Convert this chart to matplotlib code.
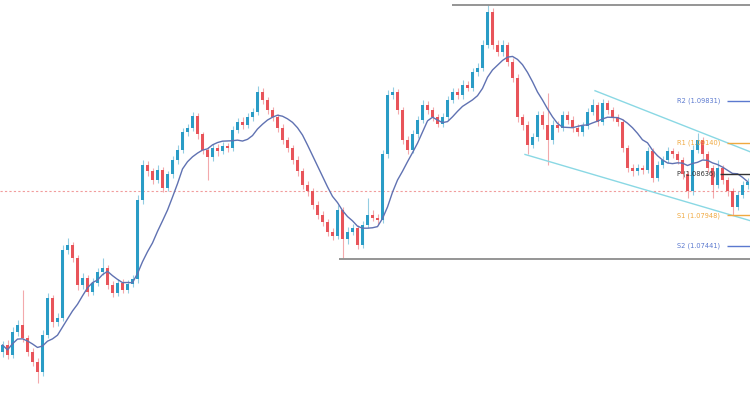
import matplotlib
matplotlib.use("Agg")
import matplotlib.pyplot as plt
import pandas as pd

# Valores (preço de fechamento, máximas e mínimas)
first_open = 1.0570
closes = [
    1.0581, 1.0565, 1.0603, 1.0614, 1.0593, 1.0570, 1.0553, 1.0537, 1.0598, 1.0659,
    1.0619, 1.0626, 1.0738, 1.0746, 1.0725, 1.0680, 1.0692, 1.0669, 1.0684, 1.0702,
    1.0708, 1.0680, 1.0667, 1.0684, 1.0672, 1.0682, 1.0689, 1.0820, 1.0878, 1.0867,
    1.0853, 1.0870, 1.0840, 1.0862, 1.0886, 1.0903, 1.0932, 1.0939, 1.0959, 1.0928,
    1.0903, 1.0890, 1.0906, 1.0900, 1.0909, 1.0906, 1.0936, 1.0949, 1.0944, 1.0956,
    1.0965, 1.0998, 1.0985, 1.0969, 1.0956, 1.0939, 1.0919, 1.0906, 1.0886, 1.0867,
    1.0845, 1.0834, 1.0812, 1.0796, 1.0784, 1.0768, 1.0761, 1.0804, 1.0755, 1.0768,
    1.0774, 1.0746, 1.0779, 1.0796, 1.0791, 1.0787, 1.0895, 1.0993, 1.0998, 1.0969,
    1.0919, 1.0903, 1.0928, 1.0952, 1.0977, 1.0969, 1.0956, 1.0946, 1.0956, 1.0985,
    1.0998, 1.0993, 1.1010, 1.1005, 1.1031, 1.1038, 1.1076, 1.1130, 1.1076, 1.1064,
    1.1076, 1.1048, 1.1021, 1.0956, 1.0944, 1.0911, 1.0923, 1.0960, 1.0944, 1.0919,
    1.0944, 1.0939, 1.0960, 1.0952, 1.0939, 1.0932, 1.0942, 1.0965, 1.0977, 1.0949,
    1.0979, 1.0969, 1.0956, 1.0949, 1.0906, 1.0873, 1.0867, 1.0873, 1.0870, 1.0900,
    1.0857, 1.0878, 1.0886, 1.0900, 1.0895, 1.0886, 1.0862, 1.0834, 1.0903, 1.0919,
    1.0895, 1.0873, 1.0844, 1.0873, 1.0853, 1.0834, 1.0809, 1.0829, 1.0844, 1.0850,
]
highs = [
    1.0588, 1.0590, 1.0610, 1.0622, 1.0672, 1.0598, 1.0576, 1.0560, 1.0605, 1.0667,
    1.0664, 1.0634, 1.0745, 1.0758, 1.0751, 1.0729, 1.0699, 1.0697, 1.0691, 1.0708,
    1.0725, 1.0713, 1.0686, 1.0690, 1.0690, 1.0688, 1.0696, 1.0828, 1.0886, 1.0884,
    1.0872, 1.0877, 1.0875, 1.0868, 1.0893, 1.0910, 1.0938, 1.0946, 1.0965, 1.0963,
    1.0932, 1.0908, 1.0912, 1.0913, 1.0916, 1.0914, 1.0942, 1.0955, 1.0956, 1.0963,
    1.0972, 1.1008, 1.1004, 1.0990, 1.0974, 1.0961, 1.0945, 1.0924, 1.0911, 1.0892,
    1.0872, 1.0851, 1.0839, 1.0818, 1.0802, 1.0789, 1.0774, 1.0811, 1.0809, 1.0775,
    1.0781, 1.0779, 1.0786, 1.0824, 1.0803, 1.0797, 1.0902, 1.1001, 1.1006, 1.1003,
    1.0973, 1.0925, 1.0935, 1.0958, 1.0984, 1.0983, 1.0974, 1.0962, 1.0963, 1.0991,
    1.1005, 1.1004, 1.1017, 1.1016, 1.1038, 1.1046, 1.1084, 1.1142, 1.1136, 1.1083,
    1.1084, 1.1081, 1.1054, 1.1027, 1.0962, 1.0950, 1.0930, 1.0967, 1.0966, 1.0997,
    1.0951, 1.0950, 1.0967, 1.0966, 1.0958, 1.0945, 1.0948, 1.0972, 1.0986, 1.0982,
    1.0987, 1.0985, 1.0974, 1.0962, 1.0954, 1.0911, 1.0879, 1.0880, 1.0878, 1.0907,
    1.0905, 1.0884, 1.0893, 1.0907, 1.0906, 1.0901, 1.0891, 1.0867, 1.0910, 1.0931,
    1.0924, 1.0900, 1.0878, 1.0886, 1.0878, 1.0858, 1.0839, 1.0835, 1.0851, 1.0857,
]
lows = [
    1.0562, 1.0558, 1.0560, 1.0596, 1.0586, 1.0563, 1.0546, 1.0519, 1.0530, 1.0592,
    1.0611, 1.0612, 1.0620, 1.0731, 1.0718, 1.0672, 1.0673, 1.0662, 1.0664, 1.0678,
    1.0697, 1.0674, 1.0660, 1.0662, 1.0666, 1.0667, 1.0676, 1.0684, 1.0814, 1.0860,
    1.0846, 1.0848, 1.0833, 1.0835, 1.0857, 1.0880, 1.0897, 1.0926, 1.0934, 1.0921,
    1.0896, 1.0853, 1.0884, 1.0893, 1.0895, 1.0899, 1.0901, 1.0930, 1.0937, 1.0939,
    1.0950, 1.0960, 1.0978, 1.0962, 1.0950, 1.0932, 1.0912, 1.0899, 1.0879, 1.0860,
    1.0838, 1.0827, 1.0805, 1.0789, 1.0777, 1.0761, 1.0754, 1.0756, 1.0725, 1.0748,
    1.0762, 1.0740, 1.0741, 1.0773, 1.0785, 1.0781, 1.0782, 1.0889, 1.0986, 1.0962,
    1.0912, 1.0896, 1.0898, 1.0922, 1.0947, 1.0962, 1.0950, 1.0940, 1.0940, 1.0951,
    1.0979, 1.0987, 1.0987, 1.0999, 1.1000, 1.1025, 1.1032, 1.1070, 1.1069, 1.1057,
    1.1058, 1.1041, 1.1014, 1.0949, 1.0936, 1.0895, 1.0905, 1.0917, 1.0937, 1.0878,
    1.0913, 1.0932, 1.0934, 1.0945, 1.0932, 1.0925, 1.0926, 1.0937, 1.0960, 1.0942,
    1.0944, 1.0962, 1.0950, 1.0942, 1.0899, 1.0866, 1.0860, 1.0861, 1.0863, 1.0865,
    1.0850, 1.0852, 1.0872, 1.0881, 1.0889, 1.0880, 1.0855, 1.0824, 1.0829, 1.0897,
    1.0888, 1.0866, 1.0824, 1.0839, 1.0846, 1.0827, 1.0796, 1.0804, 1.0824, 1.0838,
]

# Pivôs
pivot_names = ["R2", "R1", "P", "S1", "S2"]
pivot_values = [1.09831, 1.09140, 1.08636, 1.07948, 1.07441]
pivot_colors = ["#5b79cf", "#f0a940", "#333333", "#f0a940", "#5b79cf"]

# Linhas desenhadas no gráfico
support_level = 1.0723
current_price = 1.0834
channel_upper = [(118.5, 1.1000), (149.5, 1.08995)]
channel_lower = [(104.5, 1.0895), (149.5, 1.0786)]

up_color = "#2a9cc6"
down_color = "#e8545a"

opens = [first_open] + closes[:-1]
n = len(closes)
idx = list(range(n))

fig = plt.figure(figsize=(7.5, 4), dpi=100)
ax = fig.add_axes([0, 0, 1, 1])
ax.set_xlim(-0.5, n - 0.5)
ax.set_ylim(1.04904, 1.11495)
ax.axis("off")

# Linha de preço atual (pontilhada)
ax.axhline(current_price, color="#f19c9c", lw=0.8, ls=(0, (2, 2)), zorder=1)

# Candles
for i in idx:
    o, c = opens[i], closes[i]
    col = up_color if c >= o else down_color
    ax.vlines(i, lows[i], highs[i], color=col, lw=0.8, alpha=0.5, zorder=2)
    ax.bar(i, abs(c - o), bottom=min(o, c), width=0.6, color=col, zorder=3)

# Média móvel
ma = pd.Series(closes).rolling(10, min_periods=1).mean()
ax.plot(idx, ma, color="#6072b2", lw=1.0, zorder=4)

# Resistência no topo e suporte embaixo
ax.hlines(max(highs), 89.9, n - 0.5, color="#8c8c8c", lw=1.3, zorder=4)
ax.hlines(support_level, 67.3, n - 0.5, color="#8c8c8c", lw=1.3, zorder=4)

# Canal de baixa
for line in (channel_upper, channel_lower):
    ax.plot([line[0][0], line[1][0]], [line[0][1], line[1][1]],
            color="#8ad8e4", lw=1.0, zorder=4)

# Pivôs com rótulos
for name, val, col in zip(pivot_names, pivot_values, pivot_colors):
    start = 143.5 if name == "P" else 144.9
    ax.hlines(val, start, n - 0.5, color=col, lw=1.0, zorder=4)
    ax.text(134.9, val, f"{name} ({val:.5f})", color=col, fontsize=4.8,
            va="center", ha="left", zorder=5)

fig.savefig("out.png", dpi=100)
